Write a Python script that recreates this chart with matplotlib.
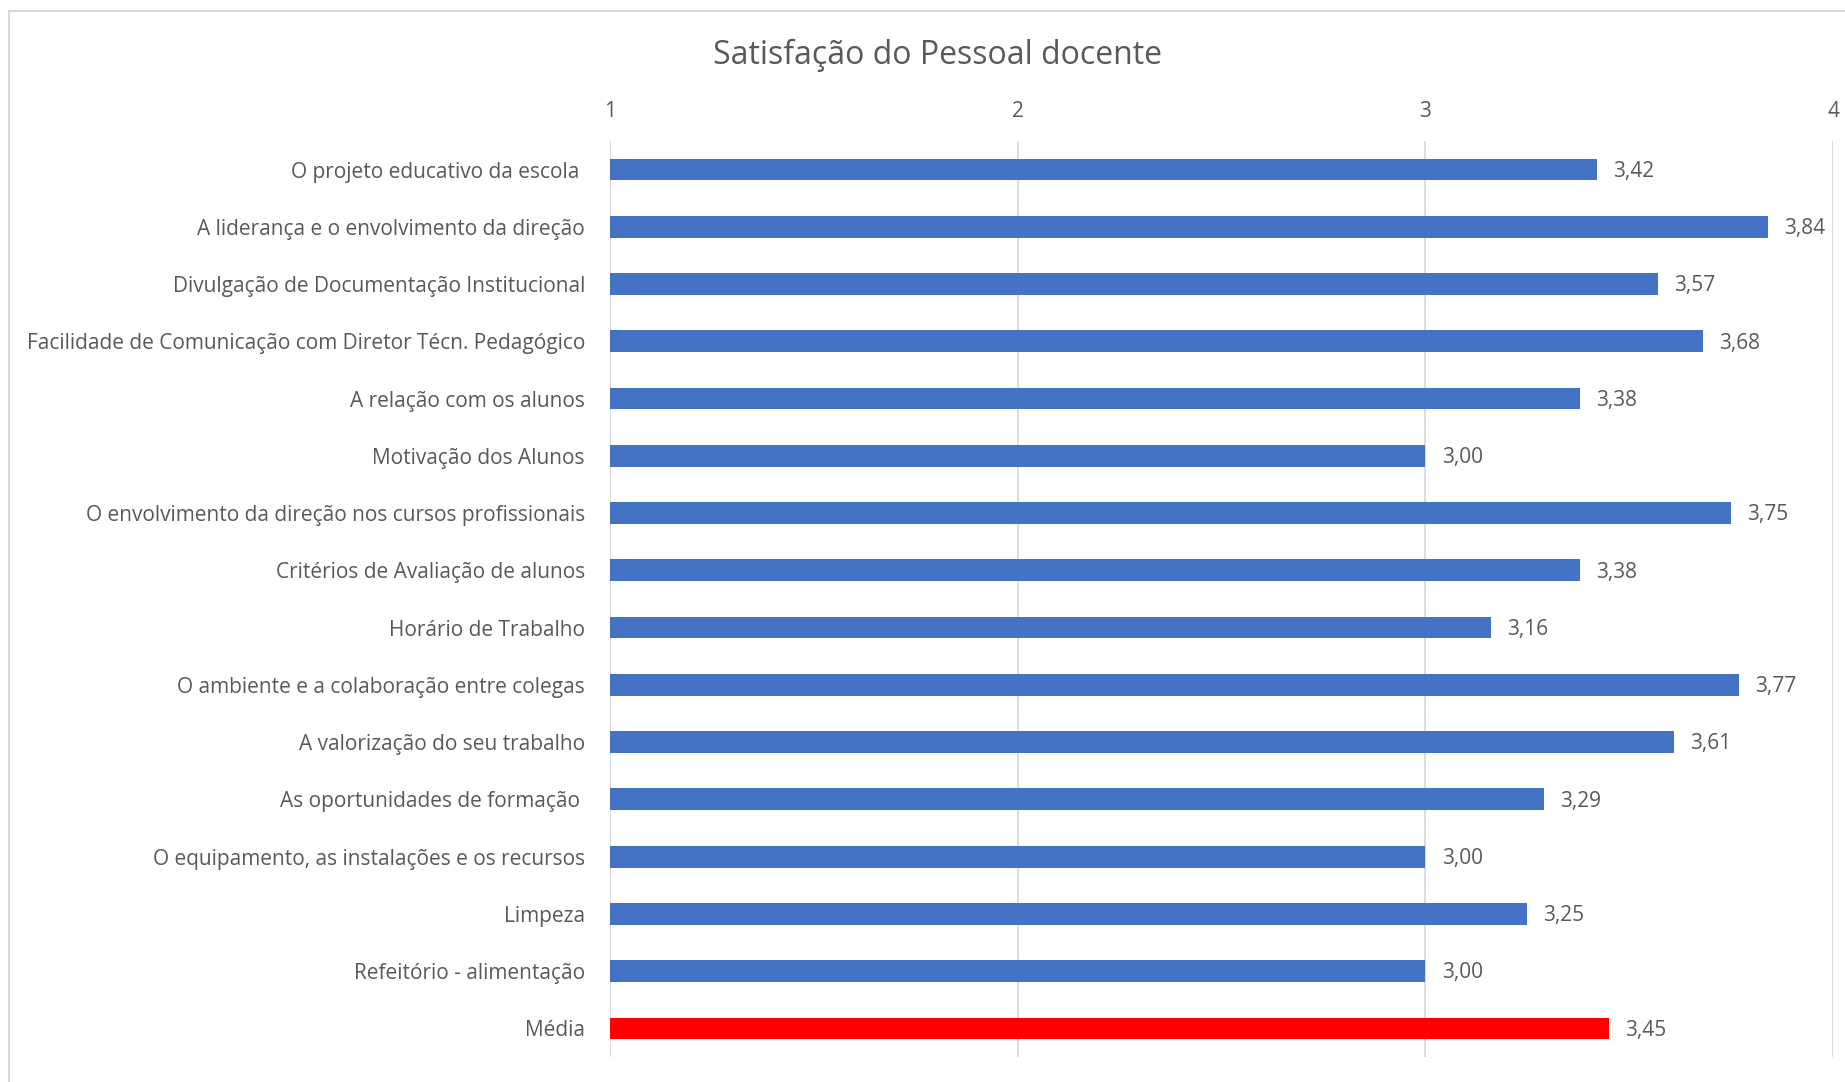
import matplotlib
matplotlib.use('Agg')
import matplotlib.pyplot as plt
from matplotlib.patches import Rectangle

categorias = [
    'O projeto educativo da escola ',
    'A liderança e o envolvimento da direção',
    'Divulgação de Documentação Institucional',
    'Facilidade de Comunicação com Diretor Técn. Pedagógico',
    'A relação com os alunos',
    'Motivação dos Alunos',
    'O envolvimento da direção nos cursos profissionais',
    'Critérios de Avaliação de alunos',
    'Horário de Trabalho',
    'O ambiente e a colaboração entre colegas',
    'A valorização do seu trabalho',
    'As oportunidades de formação ',
    'O equipamento, as instalações e os recursos',
    'Limpeza',
    'Refeitório - alimentação',
    'Média',
]
valores = [3.42, 3.84, 3.57, 3.68, 3.38, 3.00, 3.75, 3.38, 3.16, 3.77,
           3.61, 3.29, 3.00, 3.25, 3.00, 3.45]
ticks_x = [1, 2, 3, 4]

plt.rcParams['font.family'] = ['Open Sans', 'DejaVu Sans']
txt = '#595959'

fig = plt.figure(figsize=(18.45, 10.82), dpi=100)
ax = fig.add_axes([0.3306, 0.0231, 0.6629, 0.8466])

cores = ['#4472C4'] * (len(valores) - 1) + ['#FF0000']
pos = list(range(len(valores)))
base = 1
ax.barh(pos, [v - base for v in valores], left=base, height=0.38,
        color=cores, zorder=3)

for p, v in zip(pos, valores):
    ax.text(v + 0.04, p + 0.03, f'{v:.2f}'.replace('.', ','), va='center',
            ha='left', fontsize=15, color=txt)

ax.set_xlim(1, 4)
ax.set_ylim(len(valores) - 0.5, -0.5)
ax.set_xticks(ticks_x)
ax.set_xticklabels([str(t) for t in ticks_x])
ax.xaxis.tick_top()
ax.tick_params(axis='x', length=0, pad=14, labelsize=15, labelcolor=txt)
ax.set_yticks(pos)
ax.set_yticklabels(categorias)
ax.tick_params(axis='y', length=0, pad=18, labelsize=15, labelcolor=txt)
ax.grid(axis='x', color='#D9D9D9', linewidth=1.3, zorder=0)
for s in ax.spines.values():
    s.set_visible(False)

fig.text(0.508, 0.949, 'Satisfação do Pessoal docente', ha='center',
         va='center', fontsize=23, color=txt)

# moldura do gráfico
fig.patches.append(Rectangle((0.005, -0.01), 1.0, 1.0, transform=fig.transFigure,
                             fill=False, edgecolor='#D9D9D9', linewidth=1.5))

fig.savefig('out.png', dpi=100)
